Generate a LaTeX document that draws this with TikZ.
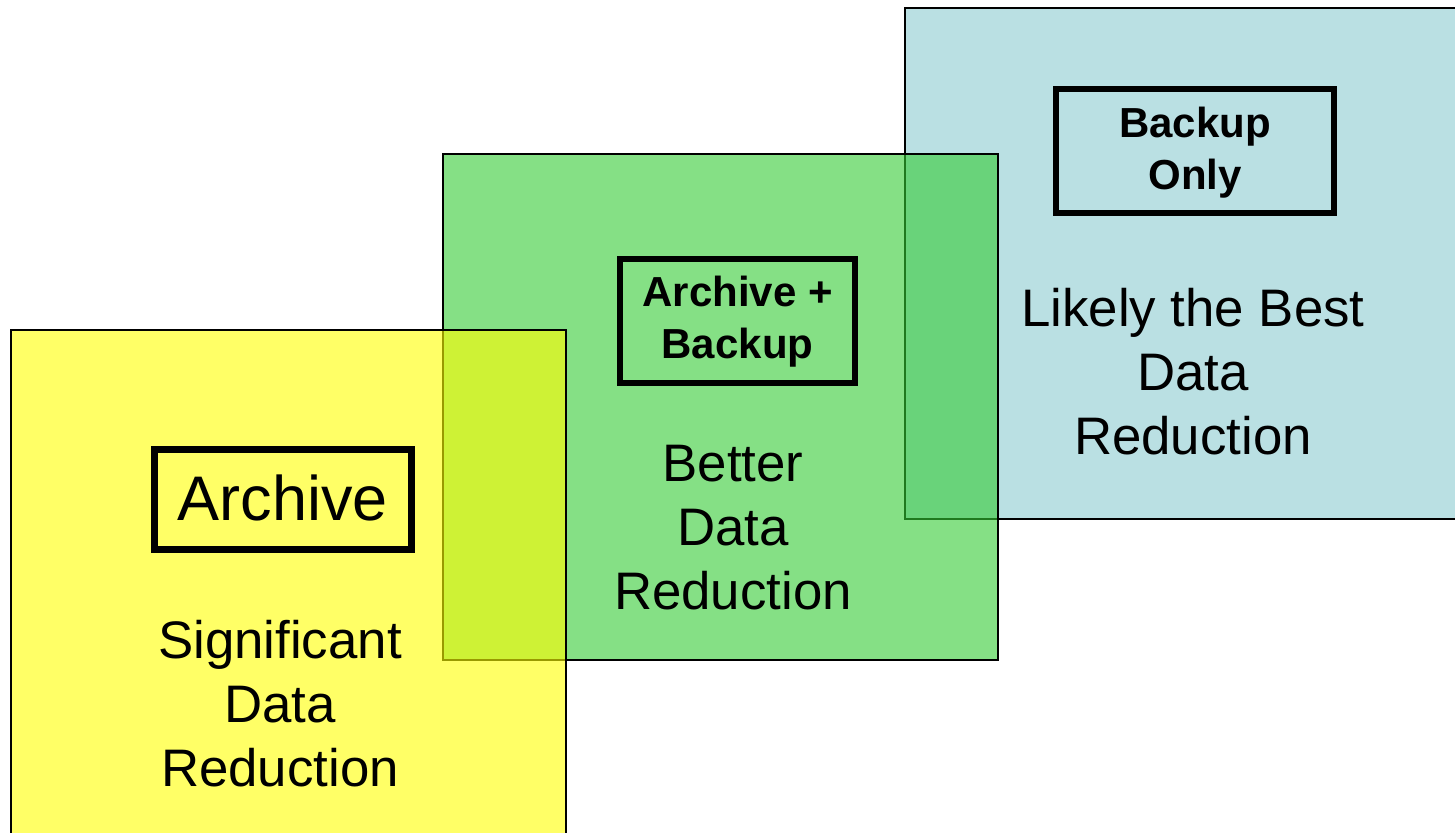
\documentclass[tikz,border=0pt]{standalone}
\usepackage{fontspec}
\setmainfont{Liberation Sans}
\definecolor{ylw}{RGB}{255,255,0}
\definecolor{grn}{RGB}{52,203,52}
\definecolor{blu}{RGB}{186,224,227}
\begin{document}
\begin{tikzpicture}[x=0.5pt,y=-0.5pt,
  bigbox/.style={draw=black,line width=1pt},
  frame/.style={draw=black,line width=3pt,inner sep=0pt},
  boldtext/.style={inner sep=0pt,align=center,font=\fontsize{21}{26}\selectfont\bfseries},
  label/.style={inner sep=0pt,align=center,font=\fontsize{26.4}{32}\selectfont}]
\useasboundingbox (0,0) rectangle (1455,833);
% blue box
\path[bigbox,fill=blu] (905,8) rectangle (1470,519);
\node[frame,minimum width=139pt,minimum height=62pt] (bo) at (1195,151) {};
\node[boldtext] (bot) at (1195,153) {Backup\\Only};
\node[label] (bol) at (1193,372) {Likely the Best\\Data\\Reduction};
% green box
\path[bigbox,fill=grn,fill opacity=0.6] (443,154) rectangle (998,660);
\node[frame,minimum width=117.5pt,minimum height=62pt] (ab) at (737.5,321) {};
\node[boldtext] (abt) at (737.5,322) {Archive +\\Backup};
\node[label] (abl) at (733,528) {Better\\Data\\Reduction};
% yellow box
\path[bigbox,fill=ylw,fill opacity=0.6] (11,330) rectangle (566,850);
\node[frame,line width=3.5pt,minimum width=128.5pt,minimum height=50pt] (ar) at (283,499.5) {};
\node[inner sep=0pt,font=\fontsize{31.5}{36}\selectfont] (art) at (283,498) {Archive};
\node[label] (arl) at (280,704) {Significant\\Data\\Reduction};
\end{tikzpicture}
\end{document}
